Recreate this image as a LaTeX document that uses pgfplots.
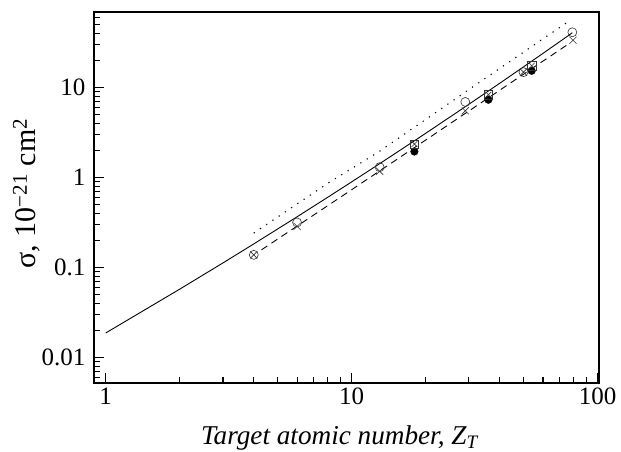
\documentclass[border=0pt]{standalone}
\usepackage{fontspec}
\setmainfont{Liberation Serif}
\usepackage{pgfplots}
\pgfplotsset{compat=1.18}
\begin{document}
\begin{tikzpicture}
\useasboundingbox (-94pt,-69pt) rectangle (527pt,383pt);
\begin{axis}[
 at={(0,0)}, anchor=south west,
 scale only axis, width=505pt, height=371pt,
 xmode=log, ymode=log,
 xmin=0.896, xmax=101.4, ymin=0.0052, ymax=68.9,
 axis line style={line width=1.6pt},
 tick align=inside, xtick pos=bottom, ytick pos=left,
 major tick length=10pt, minor tick length=6pt,
 every tick/.style={black, line width=1.1pt},
 xtick={1,10,100}, xticklabels={1,10,100},
 ytick={0.01,0.1,1,10}, yticklabels={0.01,0.1,1,10},
 minor xtick={2,3,4,5,6,7,8,9,20,30,40,50,60,70,80,90},
 minor ytick={0.006,0.007,0.008,0.009,0.02,0.03,0.04,0.05,0.06,0.07,0.08,0.09,0.2,0.3,0.4,0.5,0.6,0.7,0.8,0.9,2,3,4,5,6,7,8,9,20,30,40,50,60},
 ticklabel style={font=\fontsize{25}{25}\selectfont},
 yticklabel style={xshift=-5pt},
 xticklabel style={yshift=-1pt},
 xlabel={\textit{Target atomic number, Z}\textsubscript{\textit{T}}},
 ylabel={σ, 10\textsuperscript{−21} cm\textsuperscript{2}},
 xlabel style={font=\fontsize{27.2}{27.2}\selectfont, at={(axis description cs:0.4871,-0.1663)}, anchor=base},
 ylabel style={font=\fontsize{30}{30}\selectfont, at={(axis description cs:-0.1149,0.5108)}, anchor=base},
 clip=false,
]
% solid curve
\addplot[black, line width=0.9pt, mark=none] coordinates {
(1,0.0187) (2,0.0574) (3,0.1124) (4,0.1825) (6,0.3653) (8,0.6025) (10,0.892)
(13,1.421) (18,2.553) (25,4.648) (30,6.506) (40,11.11) (50,16.92) (60,23.90)
(70,32.08) (79,40.48)};
% dotted curve
\addplot[black, line width=1.1pt, dash pattern=on 1.2pt off 6.3pt, mark=none] coordinates {
(4,0.241) (8.2,0.90) (12.8,1.90) (20,4.4) (34.3,12.2) (59.3,33.9) (77,55)};
% dashed curve
\addplot[black, line width=0.9pt, dash pattern=on 7pt off 5pt, mark=none] coordinates {
(4.3,0.157) (10,0.73) (20,2.6) (40,9.3) (77,31)};
% open circles
\addplot[only marks, mark=o, mark size=4.5pt, mark options={black!80, line width=0.6pt}] coordinates {
(4,0.138) (6,0.316) (13,1.30) (29,6.9) (50,14.8) (79,41)};
% crosses
\addplot[only marks, mark=x, mark size=5pt, mark options={black!80, line width=0.6pt}] coordinates {
(4,0.138) (6,0.286) (13,1.17) (29,5.5) (50,14.8) (79.5,33.5)};
% filled circles
\addplot[only marks, mark=*, mark size=3.8pt, mark options={black}] coordinates {
(18,1.94) (36,7.3) (54,15.3)};
% squares with crosses
\addplot[only marks, mark=square, mark size=4.2pt, mark options={black!80, line width=0.6pt}] coordinates {
(18,2.35) (36,8.3) (54,17.4)};
\addplot[only marks, mark=x, mark size=4.2pt, mark options={black!80, line width=0.6pt}] coordinates {
(18,2.35) (36,8.3) (54,17.4)};
\end{axis}
\end{tikzpicture}
\end{document}
